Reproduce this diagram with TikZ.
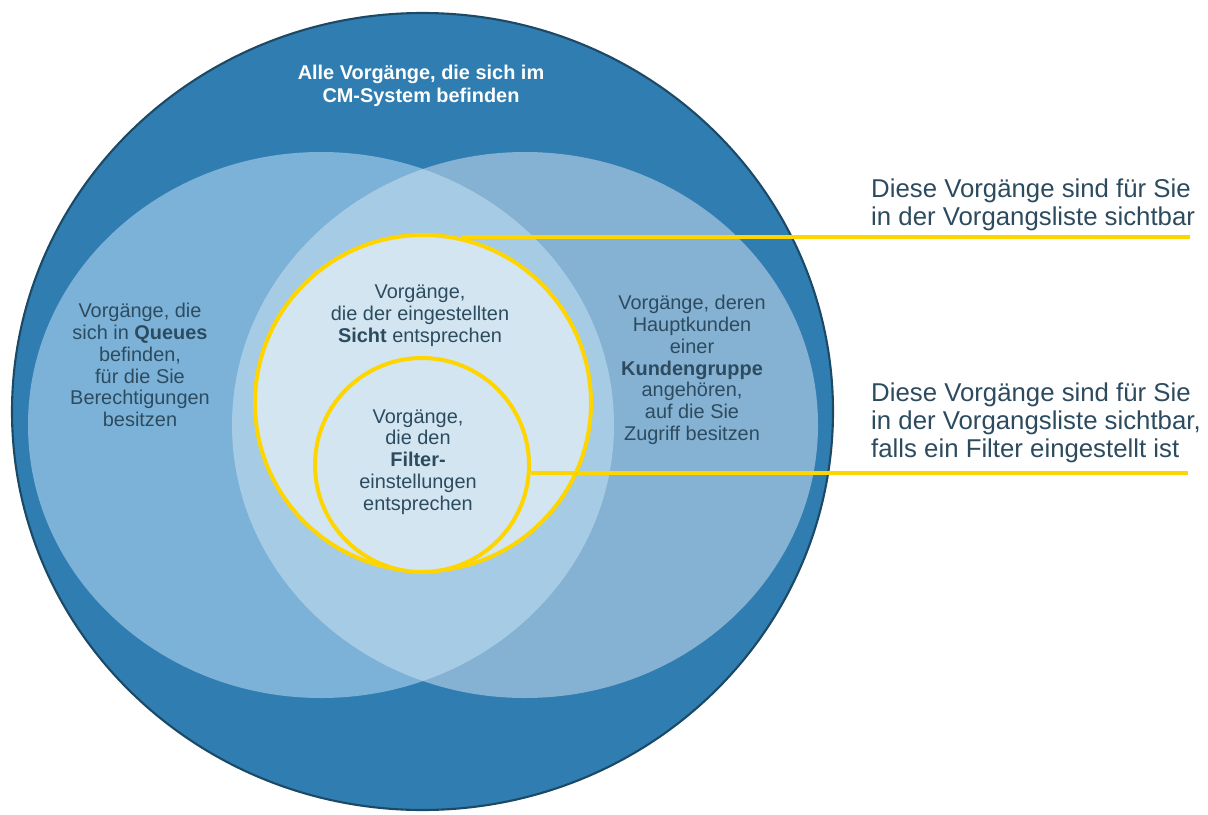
\documentclass[tikz,border=0pt]{standalone}
\usepackage{fontspec}
\setmainfont{Liberation Sans}
\usetikzlibrary{positioning}
\definecolor{cmBlue}{HTML}{307DB1}
\definecolor{cmEdge}{HTML}{1C4A66}
\definecolor{qBlue}{HTML}{7CB2D8}
\definecolor{kBlue}{HTML}{85B1D2}
\definecolor{lensBlue}{HTML}{A6CBE5}
\definecolor{viewBlue}{HTML}{D3E5F1}
\definecolor{mYellow}{HTML}{FFD500}
\definecolor{mText}{HTML}{2D4B5F}

\begin{document}
\begin{tikzpicture}[x=0.03cm, y=-0.03cm,
  txt/.style={font=\fontsize{17}{18.6}\selectfont, text=mText, align=center, inner sep=0pt},
  ring/.style={circle, draw=mYellow, line width=3.4pt, fill=viewBlue, inner sep=0pt},
  note/.style={font=\fontsize{22}{23.8}\selectfont, text=mText, align=left, anchor=base west, inner sep=0pt},
  link/.style={draw=mYellow, line width=3.4pt},
]
  \useasboundingbox (0,0) rectangle (1208,814);

  % all cases in the system
  \draw[fill=cmBlue, draw=cmEdge, line width=1.8pt] (422.5,411.5) ellipse [x radius=410.5, y radius=398.5];
  % queues and customer groups
  \fill[qBlue] (321,425) ellipse [x radius=293, y radius=273];
  \fill[kBlue] (525,425) ellipse [x radius=293, y radius=273];
  \begin{scope}
    \clip (321,425) ellipse [x radius=293, y radius=273];
    \fill[lensBlue] (525,425) ellipse [x radius=293, y radius=273];
  \end{scope}

  % view and filter
  \node[ring, minimum size=10.08cm] (sicht) at (423,403) {};
  \node[ring, minimum size=6.42cm] (filter) at (422,465) {};

  \node[txt, font=\bfseries\fontsize{17}{19.6}\selectfont, text=white] (alle) at (421,86)
    {Alle Vorgänge, die sich im\\CM-System befinden};
  \node[txt] (queues) at (140,365)
    {Vorgänge, die\\sich in \textbf{Queues}\\befinden,\\für die Sie\\Berechtigungen\\besitzen};
  \node[txt] (kunden) at (692,370)
    {Vorgänge, deren\\Hauptkunden\\einer\\\textbf{Kundengruppe}\\angehören,\\auf die Sie\\Zugriff besitzen};
  \node[txt] (sichttext) at (420,316)
    {Vorgänge,\\die der eingestellten\\\textbf{Sicht} entsprechen};
  \node[txt] (filtertext) at (418,462)
    {Vorgänge,\\die den\\\textbf{Filter-}\\einstellungen\\entsprechen};

  \node[note] (noteA) at (871,225)
    {Diese Vorgänge sind für Sie\\in der Vorgangsliste sichtbar};
  \node[note] (noteB) at (871,457)
    {Diese Vorgänge sind für Sie\\in der Vorgangsliste sichtbar,\\falls ein Filter eingestellt ist};

  \coordinate (endA) at (1190,237);
  \coordinate (endB) at (1188,472);
  \draw[link] (sicht.77) -- (sicht.77 -| endA);
  \draw[link] (filter.-4) -- (filter.-4 -| endB);
\end{tikzpicture}
\end{document}
